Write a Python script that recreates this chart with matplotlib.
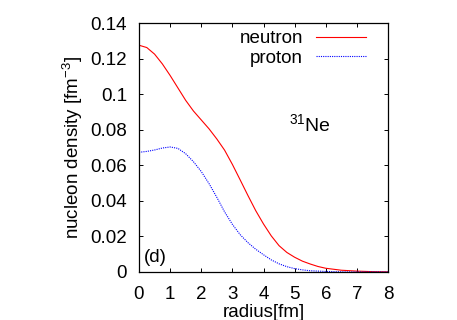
import matplotlib
matplotlib.use("Agg")
import matplotlib.pyplot as plt
from matplotlib.ticker import FuncFormatter

plt.rcParams['font.family'] = ['Liberation Sans', 'DejaVu Sans']
plt.rcParams['mathtext.fontset'] = 'custom'
plt.rcParams['mathtext.rm'] = 'Liberation Sans'
plt.rcParams['mathtext.it'] = 'Liberation Sans:italic'

r_n = [0.0, 0.25, 0.5, 0.75, 1.0, 1.25, 1.5, 1.75, 2.0, 2.25, 2.5, 2.75, 3.0, 3.25, 3.5, 3.75, 4.0,
       4.25, 4.5, 4.75, 5.0, 5.25, 5.5, 5.75, 6.0, 6.5, 7.0, 7.5, 8.0]
rho_n = [0.1275, 0.1262, 0.1225, 0.1170, 0.1105, 0.1035, 0.0965, 0.0905, 0.0855, 0.0805, 0.0748, 0.0685,
         0.0605, 0.0518, 0.0430, 0.0345, 0.0270, 0.0203, 0.0148, 0.0110, 0.0083, 0.0061, 0.0045, 0.0031,
         0.0021, 0.0010, 0.0005, 0.0002, 0.0001]

r_p = [0.0, 0.25, 0.5, 0.75, 1.0, 1.25, 1.5, 1.75, 2.0, 2.25, 2.5, 2.75, 3.0, 3.25, 3.5, 3.75, 4.0,
       4.25, 4.5, 4.75, 5.0, 5.25, 5.5, 6.0, 6.5, 7.0, 8.0]
rho_p = [0.0673, 0.0678, 0.0686, 0.0697, 0.0703, 0.0695, 0.0665, 0.0620, 0.0565, 0.0497, 0.0420, 0.0338,
         0.0268, 0.0210, 0.0165, 0.0128, 0.0097, 0.0068, 0.0046, 0.0030, 0.0019, 0.0012, 0.0007, 0.0003,
         0.0001, 0.0, 0.0]

xticks = [0, 1, 2, 3, 4, 5, 6, 7, 8]
yticks = [0, 0.02, 0.04, 0.06, 0.08, 0.1, 0.12, 0.14]

FS = 13.5

fig = plt.figure(figsize=(4.57, 3.2), dpi=100)
ax = fig.add_axes([139 / 457, 48 / 320, 249 / 457, 249 / 320])

ax.plot(r_n, rho_n, color='#ff0000', lw=0.8, label='neutron')
ax.plot(r_p, rho_p, color='#0000ff', lw=0.8, ls=(0, (1, 1)), label='proton')

ax.set_xlim(0, 8)
ax.set_ylim(0, 0.14)
ax.set_xticks(xticks)
ax.set_yticks(yticks)
ax.yaxis.set_major_formatter(FuncFormatter(lambda v, p: '%g' % round(v, 4)))
ax.tick_params(direction='in', length=3, width=0.7, top=True, right=True,
               labelsize=FS, pad=8.5, colors='black')
ax.tick_params(axis='x', pad=10)
for s in ax.spines.values():
    s.set_linewidth(0.9)

ax.set_xlabel('radius[fm]', fontsize=FS, labelpad=1)
ax.set_ylabel('nucleon density [fm$^{\\mathrm{-3}}$]', fontsize=FS, labelpad=4)

leg = ax.legend(loc='upper right', frameon=False, markerfirst=False, fontsize=FS,
                handlelength=2.67, handletextpad=0.7, labelspacing=0.15,
                borderpad=0, borderaxespad=0, bbox_to_anchor=(0.912, 0.972))
for t in leg.get_texts():
    t.set_ha('right')

ax.text(4.82, 0.0794, '$^{31}$Ne', fontsize=14, ha='left', va='baseline')
ax.text(0.17, 0.0059, '(d)', fontsize=FS, ha='left', va='baseline')

fig.savefig('out.png', dpi=100)
